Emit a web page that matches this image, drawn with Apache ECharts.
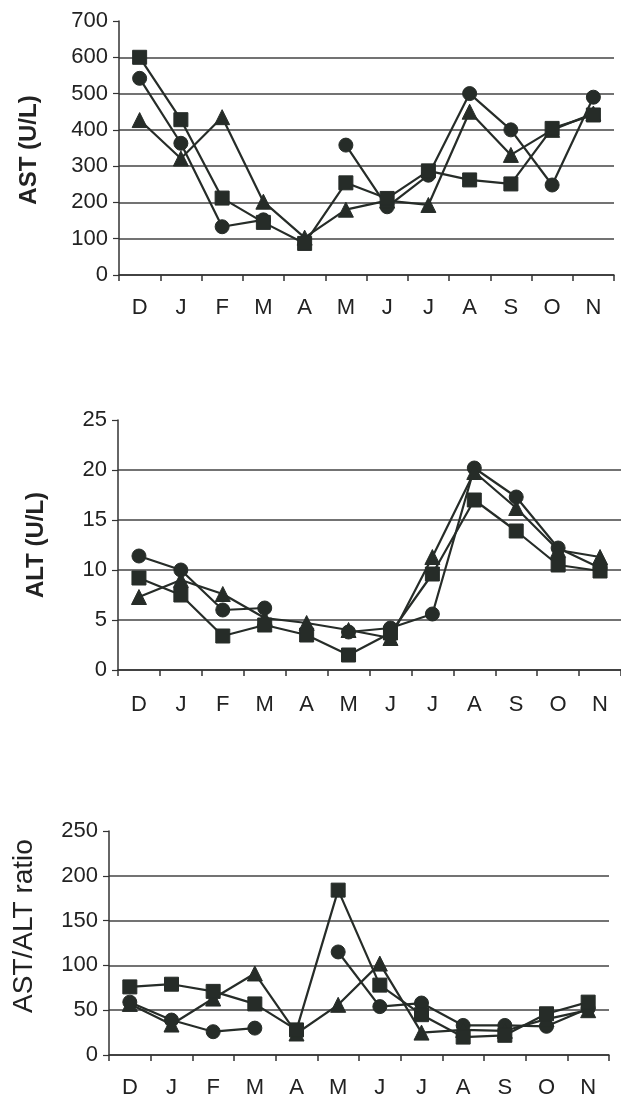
<!DOCTYPE html>
<html>
<head>
<meta charset="utf-8">
<script src="https://cdn.jsdelivr.net/npm/echarts@6/dist/echarts.min.js"></script>
<style>
  html, body { margin: 0; padding: 0; background: #ffffff; }
  #chart { width: 621px; height: 1105px; }
</style>
</head>
<body>
<div id="chart"></div>
<script>
// Month categories, December through November
const months = ['D', 'J', 'F', 'M', 'A', 'M', 'J', 'J', 'A', 'S', 'O', 'N'];

// AST (U/L)
const astSquare   = [600, 428, 212, 145, 87, 254, 211, 287, 262, 251, 404, 441];
const astCircle   = [542, 363, 133, 152, null, 358, 188, 275, 500, 400, 248, 490];
const astTriangle = [427, 321, 435, 202, 103, 180, 205, 193, 450, 331, 400, 445];

// ALT (U/L)
const altSquare   = [9.2, 7.5, 3.4, 4.5, 3.5, 1.5, 3.7, 9.6, 17.0, 13.9, 10.5, 9.9];
const altCircle   = [11.4, 10.0, 6.0, 6.2, null, 3.8, 4.2, 5.6, 20.2, 17.3, 12.2, 10.2];
const altTriangle = [7.3, 9.0, 7.6, 5.2, 4.7, 4.0, 3.2, 11.3, 19.8, 16.2, 12.0, 11.3];

// AST/ALT ratio
const ratioSquare   = [76, 79, 71, 57, 28, 184, 78, 45, 20, 22, 46, 59];
const ratioCircle   = [59, 39, 26, 30, null, 115, 54, 58, 33, 33, 32, 52];
const ratioTriangle = [57, 34, 63, 91, 24, 56, 102, 25, 28, 27, 40, 50];

// Y axis ranges
const astAxis   = { max: 700, step: 100 };
const altAxis   = { max: 25,  step: 5 };
const ratioAxis = { max: 250, step: 50 };

const INK = '#262c28';
const TEXT = '#222222';
const FONT = 'Liberation Sans, Arial, sans-serif';

const chart = echarts.init(document.getElementById('chart'), null, { renderer: 'canvas' });

const grids = [
  { left: 119, width: 495, top: 21,  height: 254 },
  { left: 118, width: 509, top: 420, height: 250 },
  { left: 109, width: 500, top: 831, height: 224 }
];

// one colour per split line; the line at the axis maximum is left out
function splitColors(axis) {
  const n = Math.round(axis.max / axis.step) + 1;
  const arr = [];
  for (let i = 0; i < n; i++) arr.push(i === n - 1 ? 'rgba(0,0,0,0)' : '#444444');
  return arr;
}

function xAxisFor(i, margin) {
  return {
    type: 'category',
    gridIndex: i,
    data: months,
    boundaryGap: true,
    axisLine: { lineStyle: { color: '#333', width: 1.5 } },
    axisTick: { show: true, alignWithLabel: false, length: 6, lineStyle: { color: '#333', width: 1.5 } },
    axisLabel: { color: TEXT, fontFamily: FONT, fontSize: 22, margin: margin, interval: 0 },
    splitLine: { show: false }
  };
}

function yAxisFor(i, axis) {
  return {
    type: 'value',
    gridIndex: i,
    min: 0,
    max: axis.max,
    interval: axis.step,
    axisLine: { show: true, lineStyle: { color: '#333', width: 1.5 } },
    axisTick: { show: true, length: 6, lineStyle: { color: '#333', width: 1.2 } },
    axisLabel: { color: TEXT, fontFamily: FONT, fontSize: 22, margin: 11 },
    splitLine: { show: true, lineStyle: { color: splitColors(axis), width: 1.6 } }
  };
}

function line(i, data, symbol, size) {
  return {
    type: 'line',
    xAxisIndex: i,
    yAxisIndex: i,
    data: data,
    symbol: symbol,
    symbolSize: size,
    connectNulls: false,
    showAllSymbol: true,
    lineStyle: { color: INK, width: 2.2 },
    itemStyle: { color: INK, borderColor: INK, borderWidth: 1 },
    emphasis: { disabled: true },
    animation: false
  };
}

function title(text, x, y, size, bold) {
  return {
    type: 'text',
    x: x, y: y,
    rotation: Math.PI / 2,
    style: {
      text: text,
      fill: TEXT,
      font: (bold ? 'bold ' : '') + size + 'px ' + FONT,
      textAlign: 'center',
      textVerticalAlign: 'middle'
    }
  };
}

chart.setOption({
  backgroundColor: '#ffffff',
  animation: false,
  grid: grids,
  xAxis: [xAxisFor(0, 22), xAxisFor(1, 24), xAxisFor(2, 22)],
  yAxis: [yAxisFor(0, astAxis), yAxisFor(1, altAxis), yAxisFor(2, ratioAxis)],
  graphic: [
    title('AST (U/L)', 29, 150, 24, true),
    title('ALT (U/L)', 36, 545, 24, true),
    title('AST/ALT ratio', 24, 926, 28, false)
  ],
  series: [
    line(0, astCircle, 'circle', 14),
    line(0, astTriangle, 'triangle', 15),
    line(0, astSquare, 'rect', 14),
    line(1, altCircle, 'circle', 14),
    line(1, altTriangle, 'triangle', 15),
    line(1, altSquare, 'rect', 14),
    line(2, ratioCircle, 'circle', 14),
    line(2, ratioTriangle, 'triangle', 15),
    line(2, ratioSquare, 'rect', 14)
  ]
});
</script>
</body>
</html>
